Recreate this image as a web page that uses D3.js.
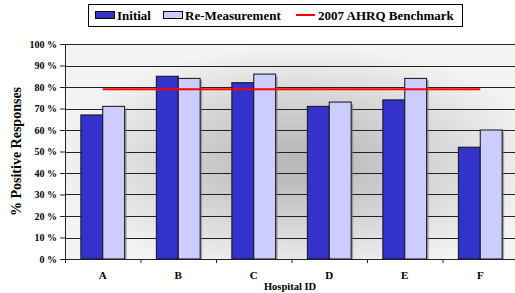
<!DOCTYPE html>
<html>
<head>
<meta charset="utf-8">
<script src="https://cdn.jsdelivr.net/npm/d3@7"></script>
<style>
  body { margin: 0; background: #fff; }
  svg { display: block; }
</style>
</head>
<body>
<div id="chart"></div>
<script>
// chart values
const hospitals = ["A", "B", "C", "D", "E", "F"];
const initial = [67, 85, 82, 71, 74, 52];
const remeasure = [71, 84, 86, 73, 84, 60];
const benchmark = 79;
const yTicks = [0, 10, 20, 30, 40, 50, 60, 70, 80, 90, 100];
const seriesNames = ["Initial", "Re-Measurement", "2007 AHRQ Benchmark"];

const FONT = "'Liberation Serif', 'Times New Roman', serif";
const width = 515, height = 293;
const margin = { top: 44, right: -3, bottom: 34, left: 65 };
const innerW = width - margin.left - margin.right;
const innerH = height - margin.top - margin.bottom;

const svg = d3.select("#chart").append("svg")
    .attr("width", width)
    .attr("height", height);

const defs = svg.append("defs");
const grad = defs.append("radialGradient")
    .attr("id", "bg")
    .attr("cx", "0.52").attr("cy", "0.55")
    .attr("r", "0.55");
grad.append("stop").attr("offset", "0%").attr("stop-color", "#b8b8b8");
grad.append("stop").attr("offset", "15%").attr("stop-color", "#bcbcbc");
grad.append("stop").attr("offset", "100%").attr("stop-color", "#f4f4f4");

const x = d3.scaleBand()
    .domain(hospitals)
    .range([margin.left, margin.left + innerW]);

const x1 = d3.scaleBand()
    .domain(["init", "re"])
    .range([0, x.bandwidth() * 0.58])
    .padding(0);

const y = d3.scaleLinear()
    .domain([0, 100])
    .range([margin.top + innerH, margin.top]);

// plot background
svg.append("rect")
    .attr("x", margin.left)
    .attr("y", margin.top)
    .attr("width", innerW)
    .attr("height", innerH)
    .attr("fill", "url(#bg)");

// gridlines
svg.selectAll(".grid")
    .data(yTicks.filter(d => d > 0))
    .enter()
    .append("line")
    .attr("x1", margin.left)
    .attr("x2", margin.left + innerW)
    .attr("y1", d => Math.round(y(d)) + 0.5)
    .attr("y2", d => Math.round(y(d)) + 0.5)
    .attr("stroke", "#222")
    .attr("stroke-width", 1);

// bars
const groupOffset = (x.bandwidth() - x1.range()[1]) / 2;
const groups = svg.selectAll(".grp")
    .data(hospitals.map((h, i) => ({ h: h, vals: [["init", initial[i]], ["re", remeasure[i]]] })))
    .enter()
    .append("g")
    .attr("transform", d => "translate(" + (x(d.h) + groupOffset) + ",0)");

// little gray shadow on the right side
groups.selectAll(".shadow")
    .data(d => d.vals)
    .enter()
    .append("rect")
    .attr("x", d => x1(d[0]) + 2)
    .attr("y", d => y(d[1]) + 2)
    .attr("width", x1.bandwidth())
    .attr("height", d => y(0) - y(d[1]) - 2)
    .attr("fill", "#777")
    .attr("opacity", 0.6);

groups.selectAll(".bar")
    .data(d => d.vals)
    .enter()
    .append("rect")
    .attr("x", d => x1(d[0]))
    .attr("y", d => y(d[1]))
    .attr("width", x1.bandwidth())
    .attr("height", d => y(0) - y(d[1]))
    .attr("fill", d => d[0] === "init" ? "#3333cc" : "#ccccff")
    .attr("stroke", "#111")
    .attr("stroke-width", 1);

// benchmark line
svg.append("line")
    .attr("x1", x("A") + x.bandwidth() / 2)
    .attr("x2", x("F") + x.bandwidth() / 2)
    .attr("y1", y(benchmark))
    .attr("y2", y(benchmark))
    .attr("stroke", "#ff0000")
    .attr("stroke-width", 2);

// y axis
const yAxis = svg.append("g")
    .attr("transform", "translate(" + margin.left + ",0)")
    .call(d3.axisLeft(y).tickValues(yTicks).tickSize(5).tickPadding(3).tickFormat(d => d + " %"));
yAxis.select(".domain").attr("stroke", "#222");
yAxis.selectAll(".tick line").attr("stroke", "#222");
yAxis.selectAll("text")
    .style("font-family", FONT)
    .style("font-weight", "bold")
    .style("font-size", "10px")
    .attr("fill", "#000");

// x axis
const xAxis = svg.append("g")
    .attr("transform", "translate(0," + (margin.top + innerH) + ")")
    .call(d3.axisBottom(x).tickSize(0).tickPadding(12));
xAxis.select(".domain").attr("stroke", "#222");
xAxis.selectAll("text")
    .style("font-family", FONT)
    .style("font-weight", "bold")
    .style("font-size", "11px")
    .attr("fill", "#000");

// ticks between categories (and at the left edge)
svg.selectAll(".xtick")
    .data(hospitals)
    .enter()
    .append("line")
    .attr("x1", d => x(d) + 0.5)
    .attr("x2", d => x(d) + 0.5)
    .attr("y1", margin.top + innerH)
    .attr("y2", margin.top + innerH + 4)
    .attr("stroke", "#222");

// axis titles
svg.append("text")
    .attr("x", margin.left + (width - margin.left) / 2)
    .attr("y", 290)
    .attr("text-anchor", "middle")
    .style("font-family", FONT)
    .style("font-weight", "bold")
    .style("font-size", "10.5px")
    .text("Hospital ID");

svg.append("text")
    .attr("transform", "translate(21," + (margin.top + innerH / 2) + ") rotate(-90)")
    .attr("text-anchor", "middle")
    .style("font-family", FONT)
    .style("font-weight", "bold")
    .style("font-size", "14px")
    .text("% Positive Responses");

// legend
const legend = svg.append("g");
legend.append("rect")
    .attr("x", 88.5).attr("y", 4.5)
    .attr("width", 374).attr("height", 22)
    .attr("fill", "#fff")
    .attr("stroke", "#000");

const legendX = [95, 163, 296];
legend.selectAll(".sw")
    .data(seriesNames.slice(0, 2))
    .enter()
    .append("rect")
    .attr("x", (d, i) => legendX[i] + 0.5)
    .attr("y", 11.5)
    .attr("width", 19)
    .attr("height", 7)
    .attr("fill", (d, i) => i === 0 ? "#3333cc" : "#ccccff")
    .attr("stroke", "#000");

legend.append("line")
    .attr("x1", legendX[2]).attr("x2", legendX[2] + 19)
    .attr("y1", 15).attr("y2", 15)
    .attr("stroke", "#ff0000")
    .attr("stroke-width", 2);

legend.selectAll(".lt")
    .data(seriesNames)
    .enter()
    .append("text")
    .attr("x", (d, i) => legendX[i] + 22)
    .attr("y", 19.5)
    .style("font-family", FONT)
    .style("font-weight", "bold")
    .style("font-size", "13px")
    .text(d => d);
</script>
</body>
</html>
